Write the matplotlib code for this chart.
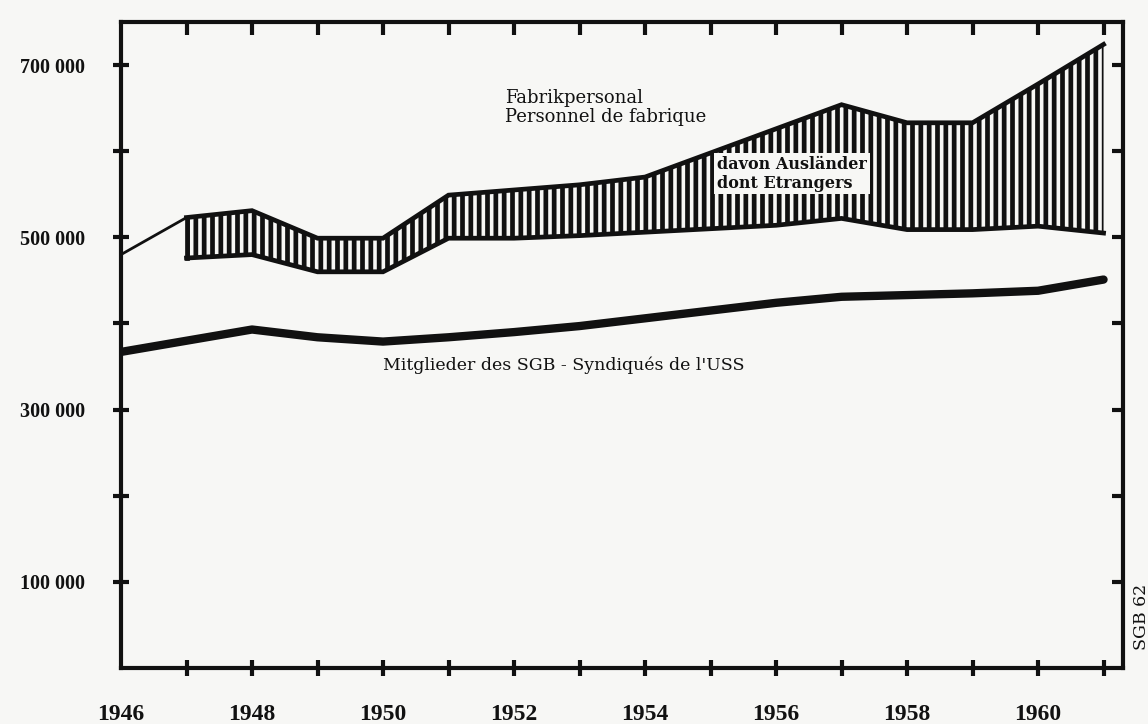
import matplotlib.pyplot as plt
import numpy as np

# values
years = list(range(1946, 1962))
fabrik = [480000, 523000, 531000, 499000, 499000, 549000, 555000, 561000,
          570000, 598000, 626000, 654000, 633000, 633000, 678000, 724000]
# lower edge of the band = Fabrikpersonal minus Ausländer (from 1947 on)
band_years = list(range(1947, 1962))
ohne_ausl = [476000, 480000, 460000, 460000, 499000, 499000, 502000, 506000,
             510000, 514000, 522000, 509000, 509000, 513000, 505000]
sgb = [367000, 380000, 393000, 384000, 379000, 384000, 390000, 397000,
       406000, 415000, 424000, 431000, 433000, 435000, 438000, 451000]

x_labels = ['1946', '1948', '1950', '1952', '1954', '1956', '1958', '1960']
y_labels = ['100 000', '300 000', '500 000', '700 000']

ink = '#111111'
paper = '#f7f7f5'
plt.rcParams['hatch.linewidth'] = 3.4
plt.rcParams['hatch.color'] = ink

fig = plt.figure(figsize=(11.48, 7.24), dpi=100, facecolor=paper)
ax = fig.add_axes([0.1054, 0.0773, 0.873, 0.8923], facecolor=paper)

# band of foreign workers
ax.fill_between(band_years, ohne_ausl, fabrik[1:], facecolor='none',
                hatch='||', edgecolor=ink, linewidth=0)
ax.plot(years[:2], fabrik[:2], color=ink, lw=2.0, solid_capstyle='round')
ax.plot(band_years, fabrik[1:], color=ink, lw=3.4, solid_joinstyle='miter')
ax.plot(band_years, ohne_ausl, color=ink, lw=3.4, solid_joinstyle='miter')
ax.plot([band_years[0]] * 2, [ohne_ausl[0], fabrik[1]], color=ink, lw=3.4)

# union members
ax.plot(years, sgb, color=ink, lw=6.0, solid_capstyle='round')

ax.set_xlim(1946, 1961.3)
ax.set_ylim(0, 750000)

for s in ax.spines.values():
    s.set_linewidth(3.0)
    s.set_color(ink)

serif_b = dict(family='Liberation Serif', weight='bold')

ax.set_xticks(range(1946, 1962),
              labels=[x_labels[(y - 1946) // 2] if y % 2 == 0 else '' for y in range(1946, 1962)],
              fontsize=17, **serif_b)
ax.set_yticks(range(100000, 800000, 100000),
              labels=[y_labels[(v // 100000 - 1) // 2] if (v // 100000) % 2 == 1 else ''
                      for v in range(100000, 800000, 100000)],
              fontsize=14.5, **serif_b)
ax.tick_params(axis='x', which='major', direction='inout', length=12, width=3,
               color=ink, pad=20, labelcolor=ink, top=False)
ax.tick_params(axis='y', which='major', direction='inout', length=12, width=3,
               color=ink, pad=20, labelcolor=ink, right=False)
ax.xaxis.get_major_ticks()[0].tick1line.set_visible(False)

# inward ticks on the top and right sides (minor ticks at the same places)
ax.xaxis.remove_overlapping_locs = False
ax.yaxis.remove_overlapping_locs = False
ax.set_xticks(range(1947, 1962), minor=True)
ax.set_yticks(range(100000, 800000, 100000), minor=True)
ax.tick_params(axis='x', which='minor', direction='in', length=9, width=3,
               color=ink, bottom=False, top=True)
ax.tick_params(axis='y', which='minor', direction='in', length=8, width=3,
               color=ink, left=False, right=True)

txt = dict(family='DejaVu Serif', color=ink)
ax.text(1951.86, 651000, 'Fabrikpersonal\nPersonnel de fabrique', fontsize=13,
        linespacing=1.1, va='center', ha='left', **txt)
ax.text(1955.1, 574000, 'davon Ausländer\ndont Etrangers', fontsize=11.5,
        weight='bold', linespacing=1.15, va='center', ha='left',
        bbox=dict(facecolor=paper, edgecolor='none', pad=2), **txt)
ax.text(1950.0, 352000, "Mitglieder des SGB - Syndiqués de l'USS", fontsize=12.5,
        va='center', ha='left', **txt)
fig.text(0.994, 0.148, 'SGB 62', rotation=90, fontsize=12.5, ha='center', va='center',
         **txt)

fig.savefig('out.png', dpi=100, facecolor=paper)
